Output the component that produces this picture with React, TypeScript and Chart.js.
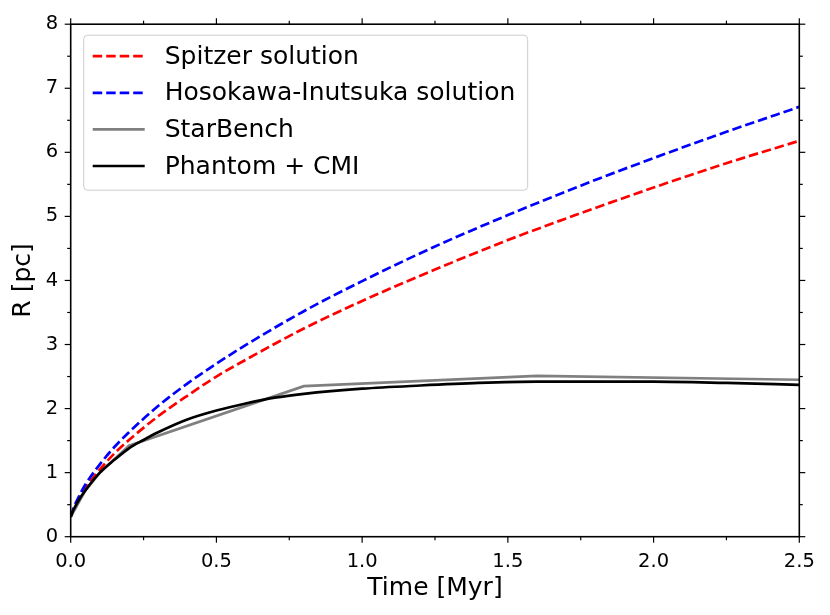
import { useEffect, useRef } from 'react';
import { Chart, registerables } from 'chart.js';
import type { ChartOptions, Plugin } from 'chart.js';

Chart.register(...registerables);

// analytic solutions, sampled on a common time grid (Myr)
const solutionTimes = [0, 0.01, 0.025, 0.05, 0.1, 0.15, 0.2, 0.3, 0.4, 0.5, 0.6, 0.8, 1.0, 1.25, 1.5, 1.75, 2.0, 2.25, 2.5];
const spitzerRadius = [0.31, 0.43, 0.57, 0.76, 1.05, 1.3, 1.51, 1.88, 2.2, 2.5, 2.76, 3.25, 3.68, 4.17, 4.63, 5.05, 5.45, 5.83, 6.18];
const hosokawaRadius = [0.31, 0.45, 0.6, 0.81, 1.13, 1.4, 1.63, 2.04, 2.39, 2.7, 2.99, 3.52, 3.99, 4.53, 5.02, 5.48, 5.91, 6.32, 6.71];

const starBenchTimes = [0, 0.05, 0.1, 0.2, 0.8, 1.6, 2.5];
const starBenchRadius = [0.31, 0.72, 1.0, 1.42, 2.35, 2.51, 2.45];

const phantomTimes = [0, 0.01, 0.025, 0.05, 0.1, 0.15, 0.2, 0.25, 0.3, 0.4, 0.5, 0.6, 0.7, 0.8, 1.0, 1.2, 1.4, 1.6, 1.8, 2.0, 2.25, 2.5];
const phantomRadius = [0.31, 0.42, 0.55, 0.72, 1.0, 1.2, 1.38, 1.51, 1.63, 1.83, 1.97, 2.08, 2.17, 2.23, 2.31, 2.36, 2.4, 2.42, 2.42, 2.42, 2.4, 2.37];

const xMajorTicks = [0, 0.5, 1.0, 1.5, 2.0, 2.5];
const xMinorTicks = [0.25, 0.75, 1.25, 1.75, 2.25];
const yMajorTicks = [0, 1, 2, 3, 4, 5, 6, 7, 8];
const yMinorTicks = [0.5, 1.5, 2.5, 3.5, 4.5, 5.5, 6.5, 7.5];

const FONT = "'DejaVu Sans', sans-serif";

const toPoints = (xs: number[], ys: number[]) => xs.map((x, i) => ({ x, y: ys[i] }));

// frame + outward ticks on all four sides, like matplotlib
const framePlugin: Plugin<'line'> = {
    id: 'frame',
    afterDraw(chart) {
        const { ctx, chartArea } = chart;
        const { left, right, top, bottom } = chartArea;
        const xs = chart.scales.x;
        const ys = chart.scales.y;
        ctx.save();
        ctx.strokeStyle = '#000';
        ctx.lineWidth = 1.2;
        const tick = (x1: number, y1: number, x2: number, y2: number) => {
            ctx.beginPath();
            ctx.moveTo(x1, y1);
            ctx.lineTo(x2, y2);
            ctx.stroke();
        };
        const drawX = (vals: number[], len: number) => {
            vals.forEach((v) => {
                const px = xs.getPixelForValue(v);
                tick(px, bottom, px, bottom + len);
                tick(px, top, px, top - len);
            });
        };
        const drawY = (vals: number[], len: number) => {
            vals.forEach((v) => {
                const py = ys.getPixelForValue(v);
                tick(left, py, left - len, py);
                tick(right, py, right + len, py);
            });
        };
        drawX(xMajorTicks, 6);
        drawX(xMinorTicks, 3.5);
        drawY(yMajorTicks, 6);
        drawY(yMinorTicks, 3.5);
        ctx.lineWidth = 1.6;
        ctx.strokeRect(left, top, right - left, bottom - top);
        ctx.restore();
    },
};

// legend box in the upper left corner of the plot area
const legendPlugin: Plugin<'line'> = {
    id: 'insideLegend',
    afterDraw(chart) {
        const { ctx, chartArea } = chart;
        const bx = chartArea.left + 13;
        const by = chartArea.top + 11;
        const bw = 444;
        const bh = 155;
        ctx.save();
        ctx.fillStyle = 'rgba(255,255,255,0.8)';
        ctx.strokeStyle = '#cccccc';
        ctx.lineWidth = 1;
        ctx.beginPath();
        ctx.roundRect(bx, by, bw, bh, 4);
        ctx.fill();
        ctx.stroke();
        ctx.font = `25px ${FONT}`;
        ctx.textBaseline = 'middle';
        chart.data.datasets.forEach((ds: any, i) => {
            const cy = by + 21 + i * 36.6;
            ctx.strokeStyle = ds.borderColor;
            ctx.lineWidth = ds.borderWidth;
            ctx.setLineDash(ds.borderDash || []);
            ctx.beginPath();
            ctx.moveTo(bx + 9, cy);
            ctx.lineTo(bx + 61, cy);
            ctx.stroke();
            ctx.setLineDash([]);
            ctx.fillStyle = '#000';
            ctx.fillText(ds.label, bx + 81, cy + 1);
        });
        ctx.restore();
    },
};

const App = () => {
    const chartRef = useRef<HTMLCanvasElement | null>(null);

    useEffect(() => {
        document.body.style.margin = '0';
        const ctx = chartRef.current?.getContext('2d');
        if (!ctx) return;

        const options: ChartOptions<'line'> = {
            animation: false,
            responsive: true,
            maintainAspectRatio: false,
            layout: { padding: { left: 0, right: 30.7, top: 21, bottom: 0 } },
            plugins: {
                legend: { display: false },
                tooltip: { enabled: false },
            },
            elements: { point: { radius: 0 } },
            scales: {
                x: {
                    type: 'linear',
                    min: 0,
                    max: 2.5,
                    grid: { display: false, drawTicks: false },
                    border: { display: false },
                    ticks: {
                        stepSize: 0.5,
                        padding: 14,
                        color: '#000',
                        font: { family: FONT, size: 19.5 },
                        callback: (v) => Number(v).toFixed(1),
                    },
                    title: {
                        display: true,
                        text: 'Time [Myr]',
                        color: '#000',
                        font: { family: FONT, size: 25 },
                        padding: 12,
                    },
                    afterFit: (scale) => {
                        scale.height = 78.3;
                    },
                },
                y: {
                    type: 'linear',
                    min: 0,
                    max: 8,
                    grid: { display: false, drawTicks: false },
                    border: { display: false },
                    ticks: {
                        stepSize: 1,
                        padding: 12.5,
                        color: '#000',
                        font: { family: FONT, size: 19.5 },
                    },
                    title: {
                        display: true,
                        text: 'R [pc]',
                        color: '#000',
                        font: { family: FONT, size: 25 },
                        padding: 8,
                    },
                    afterFit: (scale) => {
                        scale.width = 70.7;
                    },
                },
            },
        };

        const chartInstance = new Chart(ctx, {
            type: 'line',
            data: {
                datasets: [
                    {
                        label: 'Spitzer solution',
                        data: toPoints(solutionTimes, spitzerRadius),
                        borderColor: '#ff0000',
                        borderWidth: 2.7,
                        borderDash: [9.5, 4],
                        cubicInterpolationMode: 'monotone',
                        order: 4,
                    },
                    {
                        label: 'Hosokawa-Inutsuka solution',
                        data: toPoints(solutionTimes, hosokawaRadius),
                        borderColor: '#0000ff',
                        borderWidth: 2.7,
                        borderDash: [9.5, 4],
                        cubicInterpolationMode: 'monotone',
                        order: 3,
                    },
                    {
                        label: 'StarBench',
                        data: toPoints(starBenchTimes, starBenchRadius),
                        borderColor: '#808080',
                        borderWidth: 2.7,
                        tension: 0,
                        order: 2,
                    },
                    {
                        label: 'Phantom + CMI',
                        data: toPoints(phantomTimes, phantomRadius),
                        borderColor: '#000000',
                        borderWidth: 2.7,
                        cubicInterpolationMode: 'monotone',
                        order: 1,
                    },
                ],
            },
            options,
            plugins: [framePlugin, legendPlugin],
        });

        return () => {
            chartInstance.destroy();
        };
    }, []);

    return (
        <div style={{ width: '830px', height: '615px', position: 'relative' }}>
            <canvas ref={chartRef}></canvas>
        </div>
    );
};

export default App;
